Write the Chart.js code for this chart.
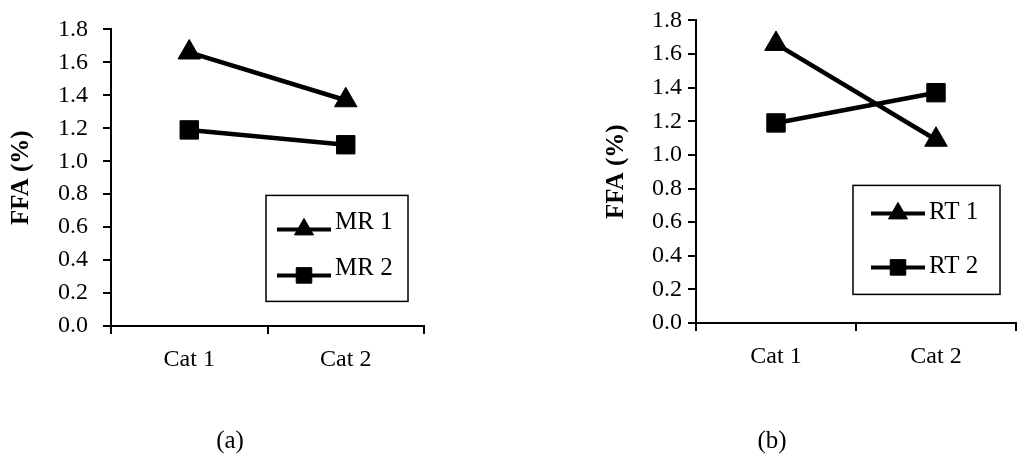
<!DOCTYPE html>
<html>
<head>
<meta charset="utf-8">
<script src="https://cdn.jsdelivr.net/npm/chart.js@4.4.1/dist/chart.umd.min.js"></script>
<style>
html, body { margin: 0; padding: 0; background: #fff; overflow: hidden; }
body { width: 1019px; height: 458px; position: relative; }
.panel { position: absolute; top: 0; }
.tag { position: absolute; top: 440px; font: 25px "Liberation Serif", "Times New Roman", serif; color: #000; transform: translate(-50%, -50%); }
</style>
</head>
<body>
<div class="panel" style="left:0"><canvas id="chartA" width="440" height="458"></canvas></div>
<div class="panel" style="left:580px"><canvas id="chartB" width="450" height="458"></canvas></div>
<div class="tag" style="left:230px">(a)</div>
<div class="tag" style="left:772px">(b)</div>
<script>
// data
const categories = ['Cat 1', 'Cat 2'];
const yTicks = [0, 0.2, 0.4, 0.6, 0.8, 1.0, 1.2, 1.4, 1.6, 1.8];
const mr1 = [1.66, 1.37];
const mr2 = [1.19, 1.10];
const rt1 = [1.66, 1.09];
const rt2 = [1.19, 1.37];

Chart.defaults.font.family = '"Liberation Serif", "Times New Roman", serif';
Chart.defaults.color = '#000';

// legend drawn as a framed box inside the plot area
const boxLegend = {
	id: 'boxLegend',
	afterDraw(chart, args, opts) {
		const {ctx, chartArea} = chart;
		const bx = chartArea.left + opts.x, by = chartArea.top + opts.y;
		ctx.save();
		ctx.strokeStyle = '#000';
		ctx.fillStyle = '#000';
		ctx.lineWidth = 1.5;
		ctx.strokeRect(bx, by, opts.w, opts.h);
		chart.data.datasets.forEach((ds, i) => {
			const y = by + opts.rows[i];
			ctx.lineWidth = 4;
			ctx.beginPath();
			ctx.moveTo(bx + opts.lineFrom, y);
			ctx.lineTo(bx + opts.lineTo, y);
			ctx.stroke();
			ctx.lineWidth = 1;
			Chart.helpers.drawPoint(ctx, {pointStyle: ds.pointStyle, radius: 11, borderWidth: 1, rotation: 0},
				bx + (opts.lineFrom + opts.lineTo) / 2, y);
			ctx.font = '25px "Liberation Serif", "Times New Roman", serif';
			ctx.textBaseline = 'middle';
			ctx.textAlign = 'left';
			ctx.fillText(ds.label, bx + opts.textX, y + opts.textDy);
		});
		ctx.restore();
	}
};

function series(label, data, style) {
	return {
		label, data,
		borderColor: '#000',
		backgroundColor: '#000',
		borderWidth: 4.5,
		pointStyle: style,
		pointRadius: 13,
		pointHoverRadius: 13,
		pointBorderWidth: 1,
		pointBackgroundColor: '#000',
		pointBorderColor: '#000',
		tension: 0,
		clip: false
	};
}

function makeChart(id, datasets, lay) {
	const font = {size: 24};
	return new Chart(document.getElementById(id), {
		type: 'line',
		data: {labels: categories, datasets},
		options: {
			responsive: false,
			animation: false,
			events: [],
			layout: {padding: {left: 0, right: lay.right, top: lay.top, bottom: 0}},
			scales: {
				x: {
					offset: true,
					afterFit(s) { s.height = lay.xh; },
					ticks: {color: '#000', font, padding: lay.xPad, maxRotation: 0},
					grid: {offset: true, drawOnChartArea: false, tickLength: 8, color: '#000', lineWidth: 2},
					border: {color: '#000', width: 2}
				},
				y: {
					min: 0,
					max: 1.8,
					afterFit(s) { s.width = lay.yw; },
					afterBuildTicks(s) { s.ticks = yTicks.map(v => ({value: v})); },
					ticks: {color: '#000', font, padding: lay.tickPad, callback: v => Number(v).toFixed(1)},
					grid: {drawOnChartArea: false, tickLength: 8, color: '#000', lineWidth: 2},
					border: {color: '#000', width: 2},
					title: {
						display: true,
						text: 'FFA (%)',
						color: '#000',
						font: {size: 25, weight: 'bold'},
						padding: {top: lay.titlePad, bottom: 0}
					}
				}
			},
			plugins: {
				legend: {display: false},
				tooltip: {enabled: false},
				boxLegend: lay.legend
			}
		},
		plugins: [boxLegend]
	});
}

makeChart('chartA', [series('MR 1', mr1, 'triangle'), series('MR 2', mr2, 'rect')], {
	right: 16, top: 21, xh: 132, yw: 111, tickPad: 15, titlePad: 7, xPad: 11,
	legend: {x: 155, y: 166, w: 142, h: 106, rows: [34, 80], lineFrom: 11, lineTo: 65, textX: 69, textDy: -7}
});

makeChart('chartB', [series('RT 1', rt1, 'triangle'), series('RT 2', rt2, 'rect')], {
	right: 6, top: 17, xh: 135, yw: 116, tickPad: 6, titlePad: 22, xPad: 11,
	legend: {x: 157, y: 165, w: 147, h: 109, rows: [28, 82], lineFrom: 18, lineTo: 72, textX: 76, textDy: -1}
});
</script>
</body>
</html>
